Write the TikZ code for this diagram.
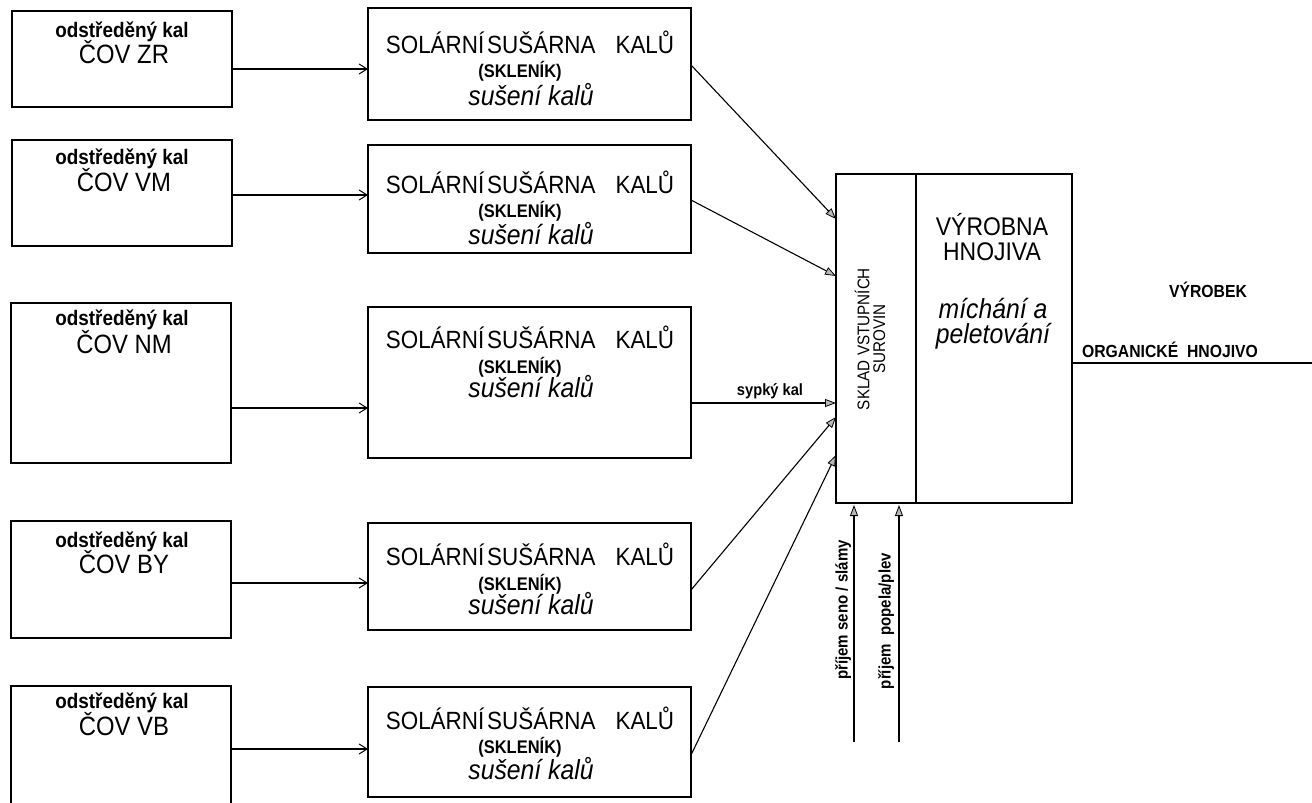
\documentclass[tikz,border=0pt]{standalone}
\usepackage{fontspec}
\setmainfont{Liberation Sans}[FakeStretch=0.9]
\usetikzlibrary{arrows.meta}
\newcommand\fsz[1]{\fontsize{#1}{#1}\selectfont}
\tikzset{
  box/.style={draw, line width=1.3pt, inner sep=0pt, outer sep=0pt},
  txt/.style={anchor=base, inner sep=0pt},
  ln/.style={line width=1.1pt},
  larr/.style={ln, -{Straight Barb[length=8pt,width=10pt,line width=1pt]}},
  tarr/.style={ln, -{Triangle[length=11pt,width=8pt,fill=gray!55,line width=0.8pt]}},
}
\newcommand\srclabels[4]{%
  \node[txt,font={\bfseries\fsz{21}}] (#1a) at (122,#2) {odstředěný kal};
  \node[txt,font={\fsz{26.5}}] (#1b) at (124,#3) {ČOV #4};
}
\newcommand\solarlabels[4]{%
  \node[txt,font={\fsz{24.9}}] (#1a) at (530,#2) {SOLÁRNÍ\hspace{3pt}SUŠÁRNA\hspace{20pt}KALŮ};
  \node[txt,font={\bfseries\fsz{18.3}}] (#1b) at (520,#3) {(SKLENÍK)};
  \node[txt,font={\itshape\fsz{27.5}}] (#1c) at (531,#4) {sušení kalů};
}
\begin{document}
\begin{tikzpicture}[x=1pt,y=-1pt]
\useasboundingbox (0,0) rectangle (1312,803);
% source boxes
\node[box,minimum width=220pt,minimum height=96pt]  (L1) at (122,59) {};
\node[box,minimum width=220pt,minimum height=106pt] (L2) at (122,193) {};
\node[box,minimum width=220pt,minimum height=160pt] (L3) at (121,383) {};
\node[box,minimum width=220pt,minimum height=117pt] (L4) at (121,579.5) {};
\node[box,minimum width=220pt,minimum height=134pt] (L5) at (121,753) {};
\srclabels{T1}{37}{63}{ZR}
\srclabels{T2}{164}{191}{VM}
\srclabels{T3}{325}{353}{NM}
\srclabels{T4}{547}{573}{BY}
\srclabels{T5}{708}{735}{VB}
% solar dryers
\node[box,minimum width=323pt,minimum height=112pt] (M1) at (529.5,64) {};
\node[box,minimum width=323pt,minimum height=108pt] (M2) at (529.5,199) {};
\node[box,minimum width=323pt,minimum height=151pt] (M3) at (529.5,382.5) {};
\node[box,minimum width=323pt,minimum height=107pt] (M4) at (529.5,576.5) {};
\node[box,minimum width=323pt,minimum height=110pt] (M5) at (529.5,742) {};
\solarlabels{S1}{53}{77}{105}
\solarlabels{S2}{193}{217}{244}
\solarlabels{S3}{348}{373}{397}
\solarlabels{S4}{565}{590}{614}
\solarlabels{S5}{729}{753}{779}
% store and production
\node[box,minimum width=80pt,minimum height=329pt] (S) at (876,338.5) {};
\node[box,minimum width=156pt,minimum height=329pt] (V) at (994,338.5) {};
\node[font={\fsz{16.9}},align=center,rotate=90,inner sep=0pt] (St) at (870,339)
  {SKLAD VSTUPNÍCH\\[-1pt]SUROVIN};
\node[font={\fsz{25.5}},align=center,inner sep=0pt,anchor=base] (V1) at (992,260)
  {VÝROBNA\\[-0.5pt]HNOJIVA};
\node[font={\itshape\fsz{27.5}},align=center,inner sep=0pt,anchor=base] (V3) at (993,343)
  {míchání a\\[-2.5pt]peletování};
% arrows source -> dryer
\draw[larr] (L1.east |- 0,69)  -- (M1.west |- 0,69);
\draw[larr] (L2.east |- 0,195) -- (M2.west |- 0,195);
\draw[larr] (L3.east |- 0,408) -- (M3.west |- 0,408);
\draw[larr] (L4.east |- 0,583) -- (M4.west |- 0,583);
\draw[larr] (L5.east |- 0,749) -- (M5.west |- 0,749);
% arrows dryer -> store
\draw[tarr] (M1.east |- 0,65)  -- (S.west |- 0,219);
\draw[tarr] (M2.east |- 0,200) -- (S.west |- 0,276);
\draw[tarr] (M3.east |- 0,403) -- (S.west |- 0,403);
\draw[tarr] (M4.east |- 0,590) -- (S.west |- 0,417);
\draw[tarr] (M5.east |- 0,755) -- (S.west |- 0,455);
\node[txt,font={\bfseries\fsz{16.3}}] (sk) at (770,395) {sypký kal};
% inputs from below
\coordinate (in1) at (854,742);
\coordinate (in2) at (899,742);
\draw[tarr,shorten >=2pt] (in1) -- (S.south -| in1);
\draw[tarr,shorten >=2pt] (in2) -- (S.south -| in2);
\node[font={\bfseries\fsz{16.7}},rotate=90,inner sep=0pt] (P1) at (843,610) {příjem seno / slámy};
\node[font={\bfseries\fsz{16.7}},rotate=90,inner sep=0pt] (P2) at (886,621) {příjem\ \ popela/plev};
% product
\coordinate (out) at (1312,363);
\draw[ln] (V.east |- out) -- (out);
\node[txt,font={\bfseries\fsz{17.5}}] (pr) at (1208,297) {VÝROBEK};
\node[txt,font={\bfseries\fsz{17.5}}] (oh) at (1170,357) {ORGANICKÉ\ \ HNOJIVO};
\end{tikzpicture}
\end{document}
